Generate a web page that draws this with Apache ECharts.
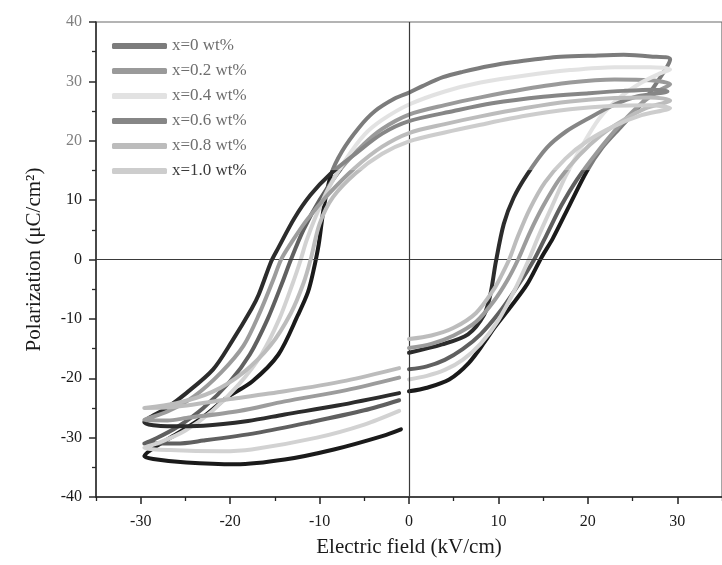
<!DOCTYPE html>
<html><head><meta charset="utf-8">
<script src="https://cdn.jsdelivr.net/npm/echarts@6/dist/echarts.min.js"></script>
<style>html,body{margin:0;padding:0;background:#fff}#c{width:722px;height:565px}</style>
</head><body><div id="c"></div>
<script>
// ---- data ----
const seriesNames = ['x=0 wt%', 'x=0.2 wt%', 'x=0.4 wt%', 'x=0.6 wt%', 'x=0.8 wt%', 'x=1.0 wt%'];
const xTickLabels = [-30, -20, -10, 0, 10, 20, 30];
const xMinorTicks = [-35, -25, -15, -5, 5, 15, 25, 35];
const yTickLabels = [-40, -30, -20, -10, 0, 10, 20, 30, 40];

// each loop: rising branch (E>0) -> upper branch -> lower return branch
const loop_x0 = [
  [0,-22.2],[2,-21.6],[4.5,-20.2],[6.7,-17.4],[8.5,-13.8],[9.5,-11.6],[11.3,-8.1],[13.2,-4.2],[14.8,0.3],[16.1,3.6],[18,9.3],[19.9,14.9],[21.6,18.8],[23.8,22.5],[26,26.2],[27.8,30],[29.2,33.7],
  [27,34.2],[24,34.5],[20,34.3],[16.5,34.1],[12,33.3],[9,32.6],[6,31.6],[3.8,30.7],[1.5,29.2],[0,28.1],[-1.6,27.1],[-3.8,25],[-5.6,22.2],[-7.5,18.2],[-8.7,14.4],[-9.5,9],[-10.1,2.5],[-10.7,-2],[-11.3,-5.5],[-12.4,-9.3],[-14.6,-16],[-17.5,-20.5],[-20.4,-23.3],[-23,-26.5],[-26,-29.4],[-28.5,-31.7],[-29.6,-33.1],
  [-28.6,-33.6],[-24.9,-34.2],[-19.4,-34.5],[-13.9,-33.7],[-8.4,-32],[-2.9,-29.7],[-0.9,-28.6]
];
const loop_x02 = [
  [0,-18.5],[2,-18],[4,-16.9],[6,-15.1],[8,-12.6],[10,-9.1],[12,-4.8],[14,0],[15.5,4.5],[17,9],[18.8,13.5],[21,18],[23.5,22.5],[26,26.3],[28,28.5],[29.2,29.5],
  [27,30.2],[23,30.3],[18,29.8],[13,28.7],[8,27.3],[4,26],[0,24.4],[-3,22],[-5,19.5],[-7.5,15.5],[-10,10],[-11.8,5],[-13.2,0],[-14.2,-4],[-15.8,-10],[-17.8,-16],[-20,-20.5],[-23,-25],[-26,-28.3],[-28.5,-30.3],[-29.6,-31],
  [-26,-31],[-23,-30.5],[-17,-29.2],[-11,-27.4],[-5,-25.4],[-1.1,-23.7]
];
const loop_x04 = [
  [0,-20.2],[2,-19.6],[4,-18.6],[6,-16.9],[8,-14.2],[10,-10.2],[11.7,-5.5],[13.4,0],[14.5,4],[16,9],[17.5,14],[19.3,19],[21.3,23.8],[23.5,27.2],[26,29.8],[28,31.3],[29.2,32],
  [27,32.4],[23,32.4],[18,31.9],[13,31],[8,29.8],[4,28.3],[0,26.1],[-3,23.5],[-5,21],[-7,17],[-9,12],[-10.5,7],[-11.5,3],[-12.1,0],[-13,-4],[-14.5,-10],[-16.5,-16],[-19,-21],[-22,-25.5],[-25,-28.8],[-28,-30.9],[-29.6,-31.7],
  [-26.7,-32.1],[-21,-32.3],[-17.6,-32],[-10.3,-30],[-5,-27.8],[-1.1,-25.5]
];
const loop_x06 = [
  [0,-15.7],[3.7,-14.3],[6.6,-12.6],[8.4,-9.3],[9.1,-5.9],[9.7,-0.5],[10.6,6],[11.7,10.4],[13.2,14.3],[15.4,18.8],[17.6,21.6],[20.1,23.8],[23,26.1],[25.6,27.5],[28.9,28.3],
  [27.4,28.6],[24,28.4],[20.1,28],[15,27.4],[9.3,26.3],[5,25],[0,23.3],[-3,21.2],[-6,17.8],[-8.8,14.4],[-11,10.9],[-12.8,7],[-14.6,2],[-15.4,-0.3],[-16.8,-5.9],[-17.6,-8.3],[-19.8,-13.8],[-21.9,-18.5],[-24.9,-22.5],[-27.1,-25],[-29.6,-27.4],
  [-27,-28.1],[-23,-28],[-18,-27.2],[-13.9,-26.1],[-8,-24.6],[-1.1,-22.5]
];
const loop_x08 = [
  [0,-14.9],[2.5,-14.2],[5,-12.8],[7.5,-10.5],[9.5,-7],[11,-3.5],[12.2,0],[13.5,4.5],[15,9],[16.8,13.5],[19,17.5],[21.5,21],[24,23.5],[26.5,25.5],[29.2,26.8],
  [27,27.3],[23,27.2],[18,26.6],[13,25.5],[8,24.1],[4,22.8],[0,21.3],[-3,19],[-6,15.5],[-9,11],[-11.5,6.5],[-13.3,2.5],[-14.3,0],[-15.2,-3.5],[-16.7,-9],[-18.5,-14.5],[-21,-19],[-24,-23],[-27,-25.6],[-29.6,-27],
  [-27,-27.1],[-24.9,-26.7],[-19,-25.5],[-13.9,-23.9],[-7,-22],[-1.1,-19.9]
];
const loop_x10 = [
  [0,-13.4],[2.5,-12.8],[5,-11.5],[7.5,-9],[9.5,-5],[10.4,-2.5],[11.2,0],[12.2,4],[13.5,8.5],[15.2,13],[17.5,17],[20,20],[23,22.5],[26,24.3],[29.2,25.5],
  [27,26],[23,25.9],[18,25.3],[13,24.2],[8,22.7],[4,21.4],[0,19.9],[-3,17.8],[-6,14.5],[-8.5,10.5],[-10,6],[-11,0],[-11.8,-4],[-13.2,-9],[-15.5,-14.5],[-18.5,-19],[-22,-22.3],[-26,-24.2],[-29.6,-25],
  [-26.7,-24.9],[-20,-23.5],[-13.9,-22.2],[-7,-20.4],[-1.1,-18.3]
];
const loops = [loop_x0, loop_x02, loop_x04, loop_x06, loop_x08, loop_x10];

// ---- styles ----
const FONT = 'Liberation Serif';
const darkColors  = ['#1a1a1a', '#606060', '#d2d2d2', '#2c2c2c', '#9c9c9c', '#bcbcbc'];
const lightColors = ['#7c7c7c', '#9a9a9a', '#e2e2e2', '#868686', '#bcbcbc', '#cdcdcd'];
function bandColor(light, dark) {
  return { type: 'linear', x: 0, y: 0, x2: 0, y2: 565, global: true,
    colorStops: [{offset: 0, color: light}, {offset: 0.3, color: light},
                 {offset: 0.302, color: dark}, {offset: 1, color: dark}] };
}

const chart = echarts.init(document.getElementById('c'), null, {renderer: 'canvas'});
const series = loops.map((d, i) => ({
  type: 'line', name: seriesNames[i], data: d, symbol: 'none', showSymbol: false,
  smooth: 0.3, xAxisIndex: 0, yAxisIndex: 0, z: 2 + i, animation: false,
  lineStyle: { width: 4, color: bandColor(lightColors[i], darkColors[i]), cap: 'round', join: 'round' },
  itemStyle: { color: lightColors[i] },
  emphasis: { disabled: true }
}));
series.push({
  type: 'line', name: 'zero', data: [], z: 20, silent: true, animation: false,
  markLine: { silent: true, symbol: ['none', 'none'], label: {show: false}, animation: false,
    lineStyle: { color: '#3a3a3a', width: 1.2, type: 'solid' },
    emphasis: { disabled: true },
    data: [{xAxis: 0}, {yAxis: 0}] }
});

chart.setOption({
  backgroundColor: '#ffffff',
  animation: false,
  grid: { left: 96, top: 22, width: 638, height: 475, show: true, borderColor: '#6a6a6a', borderWidth: 1.2, backgroundColor: 'transparent' },
  legend: {
    orient: 'vertical', left: 107, top: 31, itemWidth: 55, itemHeight: 6, itemGap: 5, icon: 'roundRect',
    textStyle: { fontFamily: FONT, fontSize: 17, color: '#6e6e6e', lineHeight: 20 },
    selectedMode: false,
    data: seriesNames.map((n, i) => ({ name: n, itemStyle: { color: lightColors[i] },
      textStyle: i === 5 ? { color: '#3a3a3a' } : undefined }))
  },
  xAxis: [{
    type: 'value', min: -35, max: 35, position: 'bottom',
    axisLine: { show: true, onZero: false, lineStyle: { color: '#222', width: 1.5 } },
    axisTick: { show: true, customValues: xTickLabels, length: 7, lineStyle: { color: '#222', width: 1.5 } },
    axisLabel: { customValues: xTickLabels, margin: 17, fontFamily: FONT, fontSize: 16, color: '#1a1a1a' },
    splitLine: { show: false },
    name: 'Electric field (kV/cm)', nameLocation: 'middle', nameGap: 40,
    nameTextStyle: { fontFamily: FONT, fontSize: 21, color: '#1a1a1a' }
  }, {
    type: 'value', min: -35, max: 35, position: 'bottom', gridIndex: 0,
    axisLine: { show: false, onZero: false },
    axisTick: { show: true, customValues: xMinorTicks, length: 4, lineStyle: { color: '#222', width: 1.3 } },
    axisLabel: { show: false }, splitLine: { show: false }
  }],
  yAxis: {
    type: 'value', min: -40, max: 40, interval: 10,
    axisLine: { show: true, onZero: false, lineStyle: { color: '#2a2a2a', width: 1.5 } },
    axisTick: { show: true, length: 7, lineStyle: { color: '#2a2a2a', width: 1.5 } },
    minorTick: { show: true, splitNumber: 2, length: 4, lineStyle: { color: '#2a2a2a', width: 1.3 } },
    minorSplitLine: { show: false }, splitLine: { show: false },
    axisLabel: { margin: 14, fontFamily: FONT, fontSize: 16,
      color: v => (v >= 20 ? '#808080' : '#1a1a1a') },
    name: 'Polarization (μC/cm²)', nameLocation: 'middle', nameGap: 51, nameRotate: 90,
    nameTextStyle: { fontFamily: FONT, fontSize: 21, color: '#1a1a1a' }
  },
  series: series
});
</script></body></html>
